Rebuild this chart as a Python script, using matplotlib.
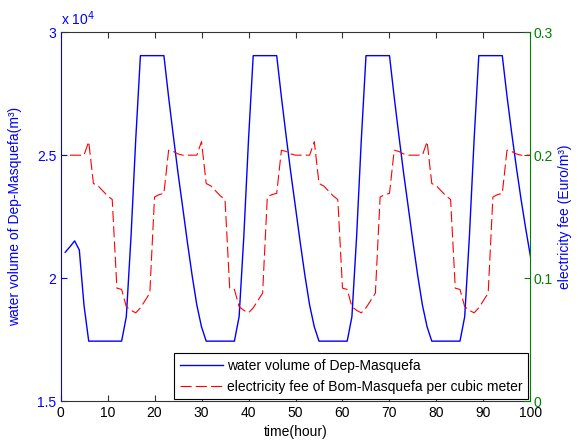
import numpy as np
import matplotlib
matplotlib.use('Agg')
import matplotlib.pyplot as plt

plt.rcParams['font.family'] = ['Liberation Sans', 'DejaVu Sans']
plt.rcParams['font.size'] = 10
plt.rcParams['lines.scale_dashes'] = False

# water volume of the tank (x 10^4 m3), hourly from t=1
hours_vol = np.arange(1, 101)
volume = [2.106, 2.128, 2.152, 2.115, 1.890, 1.745, 1.745, 1.745, 1.745, 1.745, 1.745, 1.745,
          1.745, 1.844, 2.169, 2.562, 2.904, 2.904, 2.904, 2.904, 2.904, 2.904, 2.736, 2.579,
          2.428, 2.288, 2.146, 2.012, 1.892, 1.803, 1.745, 1.745, 1.745, 1.745, 1.745, 1.745,
          1.745, 1.844, 2.169, 2.562, 2.904, 2.904, 2.904, 2.904, 2.904, 2.904, 2.736, 2.579,
          2.428, 2.288, 2.146, 2.012, 1.892, 1.803, 1.745, 1.745, 1.745, 1.745, 1.745, 1.745,
          1.745, 1.844, 2.169, 2.562, 2.904, 2.904, 2.904, 2.904, 2.904, 2.904, 2.736, 2.579,
          2.428, 2.288, 2.146, 2.012, 1.892, 1.803, 1.745, 1.745, 1.745, 1.745, 1.745, 1.745,
          1.745, 1.844, 2.169, 2.562, 2.904, 2.904, 2.904, 2.904, 2.904, 2.904, 2.740, 2.590,
          2.450, 2.320, 2.200, 2.088]
volume = np.array(volume) * 1e4

# electricity fee (Euro/m3), hourly from t=2
hours_fee = np.arange(2, 101)
fee = [0.200, 0.200, 0.200, 0.200,
       0.211, 0.177, 0.175, 0.171, 0.167, 0.164,
       0.092, 0.091, 0.077, 0.074, 0.072, 0.076, 0.082, 0.088,
       0.166, 0.168, 0.169, 0.204,
       0.203, 0.201, 0.200, 0.200, 0.200, 0.200,
       0.211, 0.177, 0.175, 0.171, 0.167, 0.164,
       0.092, 0.091, 0.077, 0.074, 0.072, 0.076, 0.082, 0.088,
       0.166, 0.168, 0.169, 0.204,
       0.203, 0.201, 0.200, 0.200, 0.200, 0.200,
       0.211, 0.177, 0.175, 0.171, 0.167, 0.164,
       0.092, 0.091, 0.077, 0.074, 0.072, 0.076, 0.082, 0.088,
       0.166, 0.168, 0.169, 0.204,
       0.203, 0.201, 0.200, 0.200, 0.200, 0.200,
       0.211, 0.177, 0.175, 0.171, 0.167, 0.164,
       0.092, 0.091, 0.077, 0.074, 0.072, 0.076, 0.082, 0.088,
       0.166, 0.168, 0.169, 0.204,
       0.203, 0.201, 0.200, 0.200, 0.200]

xticks = list(range(0, 101, 10))
left_ticks = [15000, 20000, 25000, 30000]
left_labels = ['1.5', '2', '2.5', '3']
right_ticks = [0, 0.1, 0.2, 0.3]
right_labels = ['0', '0.1', '0.2', '0.3']

blue = (0, 0, 1)
green = (0, 0.5, 0)

fig = plt.figure(figsize=(5.78, 4.47), dpi=100)
ax = fig.add_axes([0.1047, 0.1018, 0.8131, 0.8266])
ax2 = ax.twinx()

l1, = ax.plot(hours_vol, volume, color=blue, lw=1.0, label='water volume of Dep-Masquefa')
l2, = ax2.plot(hours_fee, fee, color='red', lw=0.8, linestyle=(0, (8, 3)),
               label='electricity fee of Bom-Masquefa per cubic meter')

ax.set_xlim(0, 100)
ax.set_ylim(15000, 30000)
ax2.set_ylim(0, 0.3)
ax.set_xticks(xticks)
ax.set_yticks(left_ticks)
ax.set_yticklabels(left_labels)
ax2.set_yticks(right_ticks)
ax2.set_yticklabels(right_labels)

ax.tick_params(axis='x', direction='in', length=4.5, width=0.8, top=True, colors='#333333',
               labelcolor='black', pad=3)
ax.tick_params(axis='y', direction='in', length=4.5, width=0.8, colors=blue, pad=3)
ax2.tick_params(axis='y', direction='in', length=4.5, width=0.8, colors=green, pad=2.5)

for s in ['top', 'bottom']:
    ax.spines[s].set_color('#333333')
    ax.spines[s].set_linewidth(0.8)
ax.spines['left'].set_color(blue)
ax.spines['right'].set_visible(False)
ax2.spines['right'].set_color(green)
ax2.spines['left'].set_visible(False)
ax2.spines['top'].set_visible(False)
ax2.spines['bottom'].set_visible(False)

ax.text(0.0, 1.012, 'x 10$^{4}$', transform=ax.transAxes, color=blue, fontsize=10,
        ha='left', va='bottom')

ax.set_xlabel('time(hour)', labelpad=4)
ax.set_ylabel('water volume of Dep-Masquefa(m³)', color=blue)
ax.yaxis.set_label_coords(-0.082, 0.5)
ax2.set_ylabel('electricity fee (Euro/m³)', color=blue)
ax2.yaxis.set_label_coords(1.059, 0.5)

leg = ax2.legend(handles=[l1, l2], loc='lower right', borderaxespad=0.15, fancybox=False,
                 framealpha=1, edgecolor='black', handlelength=3.1, handletextpad=0.3,
                 borderpad=0.4, fontsize=10)
leg.get_frame().set_linewidth(0.8)

fig.savefig('out.png', dpi=100)
